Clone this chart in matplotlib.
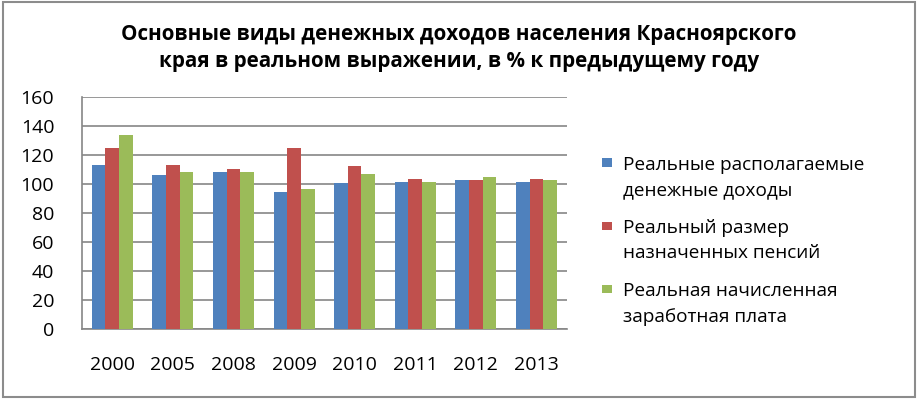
import matplotlib
matplotlib.use("Agg")
import matplotlib.pyplot as plt
from matplotlib.patches import Rectangle
import numpy as np

years = ["2000", "2005", "2008", "2009", "2010", "2011", "2012", "2013"]
disposable_income = [113.5, 106.2, 108.3, 94.5, 100.7, 101.8, 102.8, 101.8]
pensions = [125.3, 113.6, 110.3, 125.3, 112.6, 103.9, 102.8, 103.9]
wages = [134.0, 108.3, 108.3, 96.6, 107.1, 101.8, 104.8, 102.8]

series_names = [
    "Реальные располагаемые\nденежные доходы",
    "Реальный размер\nназначенных пенсий",
    "Реальная начисленная\nзаработная плата",
]
colors = ["#4F81BD", "#C0504D", "#9BBB59"]

plt.rcParams['font.family'] = ['Open Sans', 'DejaVu Sans']

W, H = 920, 399
fig = plt.figure(figsize=(W / 100, H / 100), dpi=100)
ax = fig.add_axes([82 / W, 1 - 329.3 / H, (566.7 - 82) / W, (329.3 - 97.3) / H])

x = np.arange(len(years))
w = 0.225
for i, (vals, name, c) in enumerate(zip([disposable_income, pensions, wages], series_names, colors)):
    ax.bar(x + (i - 1) * w, vals, width=w, color=c, label=name, zorder=3)

ax.set_xlim(-0.5, len(years) - 0.5)
ax.set_ylim(0, 160)
ax.set_yticks(range(0, 161, 20))
ax.set_xticks(x)
ax.set_xticklabels(years)
ax.tick_params(axis='both', length=0, labelsize=14, colors='black')
ax.tick_params(axis='y', pad=20)
ax.tick_params(axis='x', pad=19)
ax.yaxis.grid(True, color='#868686', linewidth=1.2, zorder=0)
for s in ['top', 'right']:
    ax.spines[s].set_visible(False)
for s in ['left', 'bottom']:
    ax.spines[s].set_color('#868686')
    ax.spines[s].set_linewidth(1.2)

fig.text(459 / W, 1 - 48 / H,
         "Основные виды денежных доходов населения Красноярского\nкрая в реальном выражении, в % к предыдущему году",
         ha='center', va='center', fontsize=14.9, fontweight='bold', linespacing=1.4)

# Legend (markers aligned with first line of each label, as in the reference)
pitch = 63.3
for i, (name, c) in enumerate(zip(series_names, colors)):
    top = 158.3 + i * pitch
    fig.patches.append(Rectangle((602.5 / W, 1 - (top + 8.5) / H), 10 / W, 8.5 / H,
                                 transform=fig.transFigure, facecolor=c, edgecolor='none'))
    fig.text(623.5 / W, 1 - (195 + i * pitch) / H, name, ha='left', va='baseline',
             fontsize=13.7, linespacing=1.52)

fig.patches.append(Rectangle((3 / W, 2 / H), 912 / W, 395 / H, transform=fig.transFigure,
                             fill=False, edgecolor='#8c8c8c', linewidth=1.5))

fig.savefig("out.png", dpi=100)
